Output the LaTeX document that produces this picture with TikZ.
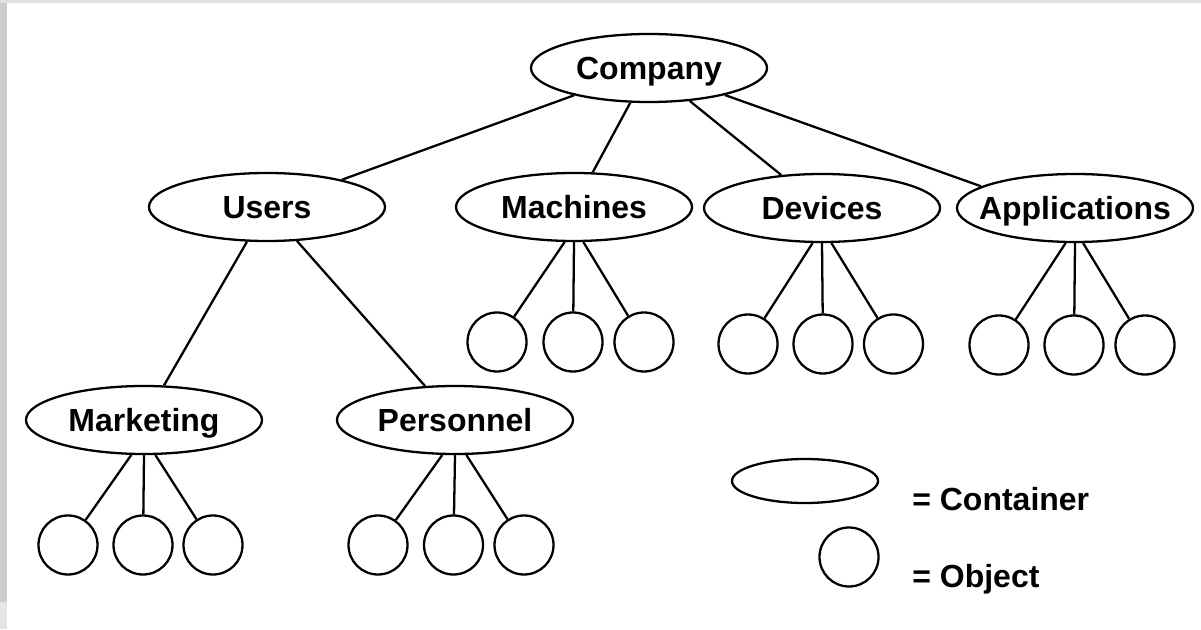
\documentclass[tikz,border=0pt]{standalone}
\usepackage{fontspec}
\setmainfont{Liberation Sans}
\usetikzlibrary{shapes}

\begin{document}
\begin{tikzpicture}[container/.style={shape=ellipse,draw=black,line width=1.3pt,minimum width=4.72cm,minimum height=1.36cm,inner sep=0pt,text height=0.46cm,text depth=0pt,font=\fontsize{18.2}{22}\selectfont\bfseries},
object/.style={shape=circle,draw=black,line width=1.3pt,minimum size=1.18cm,inner sep=0pt},
link/.style={-,draw=black,line width=1.3pt},
legendtext/.style={anchor=base west,inner sep=0pt,font=\fontsize{18.2}{22}\selectfont\bfseries}]
\useasboundingbox (0,0) rectangle (24.02,12.58);
\fill[black!20] (0,0.54) rectangle (0.14,12.58);
\fill[black!10] (0,0) rectangle (0.14,0.54);
\fill[black!12] (0,12.52) rectangle (24.02,12.58);

\node[container] (company) at (12.98,11.22) {\makebox[0pt]{Company}};
\node[container] (users) at (5.34,8.44) {\makebox[0pt]{Users}};
\node[container] (machines) at (11.48,8.44) {\makebox[0pt]{Machines}};
\node[container] (devices) at (16.44,8.42) {\makebox[0pt]{Devices}};
\node[container] (apps) at (21.50,8.42) {\makebox[0pt]{Applications}};
\node[container] (marketing) at (2.88,4.18) {\makebox[0pt]{Marketing}};
\node[container] (personnel) at (9.10,4.18) {\makebox[0pt]{Personnel}};

\node[object] (m1) at (9.94,5.74) {};
\node[object] (m2) at (11.46,5.74) {};
\node[object] (m3) at (12.88,5.74) {};
\node[object] (d1) at (14.96,5.70) {};
\node[object] (d2) at (16.46,5.70) {};
\node[object] (d3) at (17.87,5.70) {};
\node[object] (a1) at (19.98,5.68) {};
\node[object] (a2) at (21.48,5.68) {};
\node[object] (a3) at (22.90,5.68) {};
\node[object] (k1) at (1.36,1.68) {};
\node[object] (k2) at (2.86,1.68) {};
\node[object] (k3) at (4.26,1.68) {};
\node[object] (p1) at (7.56,1.68) {};
\node[object] (p2) at (9.07,1.68) {};
\node[object] (p3) at (10.48,1.68) {};

\path [link] (company) edge (users);
\path [link] (company) edge (machines);
\path [link] (company) edge (devices);
\path [link] (company) edge (apps.167);
\path [link] (users) edge (marketing);
\path [link] (users) edge (personnel);

\path [link] (machines.-105) edge (m1);
\path [link] (machines.south) edge (m2);
\path [link] (machines.-75) edge (m3);
\path [link] (devices.-105) edge (d1);
\path [link] (devices.south) edge (d2);
\path [link] (devices.-75) edge (d3);
\path [link] (apps.-105) edge (a1);
\path [link] (apps.south) edge (a2);
\path [link] (apps.-77) edge (a3);
\path [link] (marketing.-110) edge (k1);
\path [link] (marketing.south) edge (k2);
\path [link] (marketing.-72) edge (k3);
\path [link] (personnel.-110) edge (p1);
\path [link] (personnel.south) edge (p2);
\path [link] (personnel.-72) edge (p3);

\node[shape=ellipse,draw=black,line width=1.3pt,minimum width=2.92cm,minimum height=0.88cm,inner sep=0pt] (legendbox) at (16.10,2.96) {};
\node[object] (legendobj) at (16.98,1.44) {};
\node[legendtext] (containertext) at (18.24,2.38) {= Container};
\node[legendtext] (objecttext) at (18.24,0.84) {= Object};
\end{tikzpicture}
\end{document}
